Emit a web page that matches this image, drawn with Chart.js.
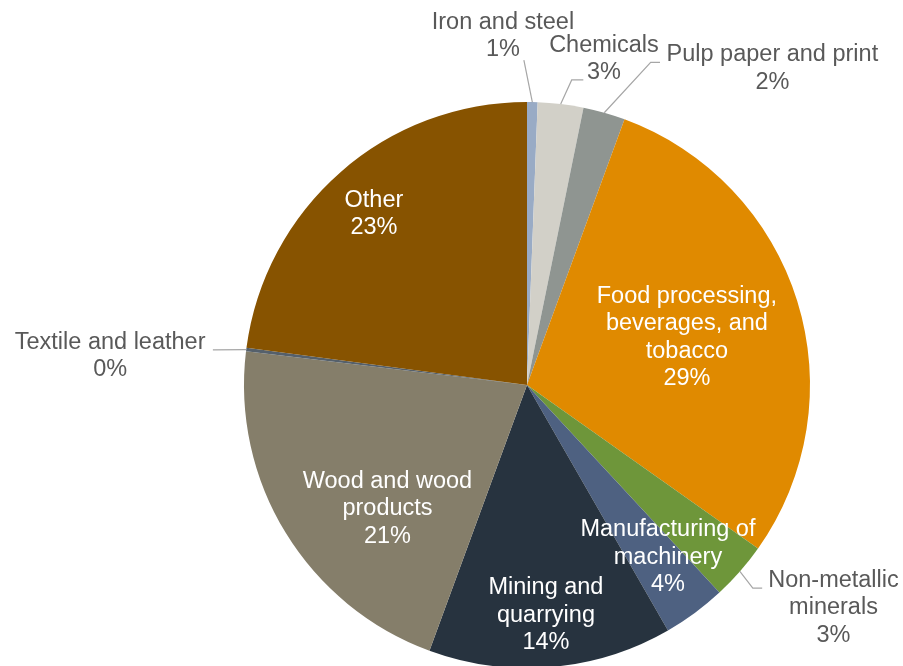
<!DOCTYPE html>
<html>
<head>
<meta charset="utf-8">
<script src="https://cdn.jsdelivr.net/npm/chart.js@4/dist/chart.umd.min.js"></script>
<style>
  html, body { margin: 0; padding: 0; background: #ffffff; }
  #wrap { width: 903px; height: 666px; position: relative; }
</style>
</head>
<body>
<div id="wrap"><canvas id="pie" width="903" height="666"></canvas></div>
<script>
// Industrial energy use by sector (share, %)
const categories = [
  'Iron and steel',
  'Chemicals',
  'Pulp paper and print',
  'Food processing, beverages, and tobacco',
  'Non-metallic minerals',
  'Manufacturing of machinery',
  'Mining and quarrying',
  'Wood and wood products',
  'Textile and leather',
  'Other'
];
const shares = [0.6, 2.6, 2.4, 29.2, 3.3, 3.6, 13.9, 21.3, 0.2, 22.9];

// Wrapped label text for each slice
const labelLines = [
  ['Iron and steel'],
  ['Chemicals'],
  ['Pulp paper and print'],
  ['Food processing,', 'beverages, and', 'tobacco'],
  ['Non-metallic', 'minerals'],
  ['Manufacturing of', 'machinery'],
  ['Mining and', 'quarrying'],
  ['Wood and wood', 'products'],
  ['Textile and leather'],
  ['Other']
];

const sliceColors = [
  '#99abc5', '#d2d0c8', '#8f9591', '#e08a00', '#6e963a',
  '#4e6181', '#27333f', '#857e6a', '#55606b', '#875300'
];

// Label placement, in units of the pie radius from its centre
const labelPos = [
  { fx: -0.085, fy: -1.233, inside: false, leader: [[-0.011, -1.148]] },
  { fx: 0.272, fy: -1.152, inside: false, leader: [[0.199, -1.078], [0.158, -1.078]] },
  { fx: 0.867, fy: -1.118, inside: false, leader: [[0.470, -1.140], [0.437, -1.140]] },
  { fx: 0.565, fy: -0.168, inside: true },
  { fx: 1.083, fy: 0.788, inside: false, leader: [[0.831, 0.718], [0.798, 0.718]] },
  { fx: 0.498, fy: 0.608, inside: true },
  { fx: 0.067, fy: 0.813, inside: true },
  { fx: -0.493, fy: 0.438, inside: true },
  { fx: -1.473, fy: -0.102, inside: false, leader: [[-1.110, -0.124]] },
  { fx: -0.541, fy: -0.604, inside: true }
];

const FONT = '23.5px "Liberation Sans", Arial, sans-serif';
const LINE_H = 27.6;

const sliceLabels = {
  id: 'sliceLabels',
  afterDatasetsDraw(chart) {
    const ctx = chart.ctx;
    const meta = chart.getDatasetMeta(0);
    const values = chart.data.datasets[0].data;
    const total = values.reduce((a, b) => a + b, 0);
    ctx.save();
    meta.data.forEach((arc, i) => {
      const p = arc.getProps(['x', 'y', 'startAngle', 'endAngle', 'outerRadius'], true);
      const R = p.outerRadius;
      const cfg = labelPos[i];
      // leader line from the slice edge to the label
      if (cfg.leader) {
        const mid = (p.startAngle + p.endAngle) / 2;
        ctx.beginPath();
        ctx.strokeStyle = '#a6a6a6';
        ctx.lineWidth = 1.2;
        ctx.moveTo(p.x + Math.cos(mid) * R, p.y + Math.sin(mid) * R);
        for (let k = cfg.leader.length - 1; k >= 0; k--) {
          ctx.lineTo(p.x + cfg.leader[k][0] * R, p.y + cfg.leader[k][1] * R);
        }
        ctx.stroke();
      }
      const pct = Math.round(values[i] / total * 100) + '%';
      const lines = labelLines[i].concat([pct]);
      const cx = p.x + cfg.fx * R;
      const cy = p.y + cfg.fy * R;
      ctx.font = FONT;
      ctx.textAlign = 'center';
      ctx.textBaseline = 'middle';
      ctx.fillStyle = cfg.inside ? '#ffffff' : '#595959';
      const top = cy - (lines.length - 1) * LINE_H / 2;
      lines.forEach((t, k) => ctx.fillText(t, cx, top + k * LINE_H));
    });
    ctx.restore();
  }
};

new Chart(document.getElementById('pie'), {
  type: 'pie',
  data: {
    labels: categories,
    datasets: [{
      data: shares,
      backgroundColor: sliceColors,
      borderWidth: 0,
      hoverOffset: 0,
      radius: 283
    }]
  },
  options: {
    responsive: false,
    animation: false,
    layout: { padding: { left: 244, right: 93, top: 104, bottom: 0 } },
    plugins: {
      legend: { display: false },
      tooltip: { enabled: false }
    },
    events: []
  },
  plugins: [sliceLabels]
});
</script>
</body>
</html>
